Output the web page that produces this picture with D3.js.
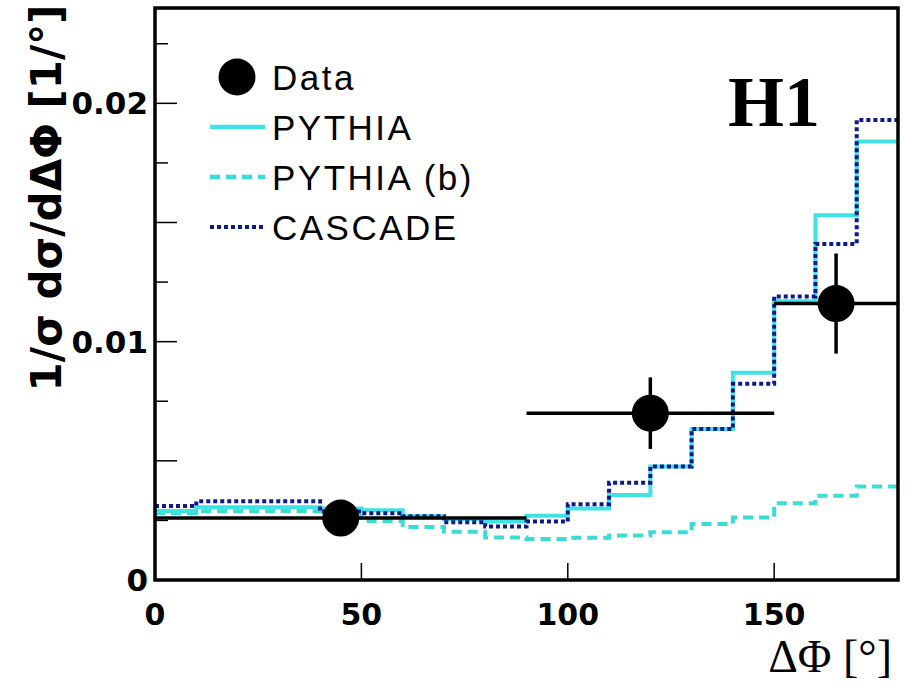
<!DOCTYPE html>
<html><head><meta charset="utf-8">
<script src="https://cdn.jsdelivr.net/npm/d3@7"></script>
<style>body{margin:0;background:#fff}svg{display:block}</style>
</head><body>
<svg id="c" width="905" height="687"></svg>
<script>
// ---- data ----
const binEdges = [0,10,20,30,40,50,60,70,80,90,100,110,120,130,140,150,160,170,180];
const pythia  = [0.0029,0.00305,0.00305,0.00305,0.0030,0.00293,0.00268,0.00255,0.00245,0.0027,0.0030,0.00357,0.00476,0.00634,0.0087,0.0117,0.0153,0.0184];
const pythiaB = [0.0028,0.00288,0.00288,0.0029,0.0027,0.00248,0.00222,0.00202,0.00178,0.00172,0.00177,0.00187,0.0020,0.00235,0.00262,0.00322,0.00353,0.00392];
const cascade = [0.0031,0.0033,0.0033,0.0033,0.00287,0.0028,0.00268,0.00242,0.00224,0.00245,0.00318,0.00408,0.00476,0.00634,0.00823,0.0119,0.0141,0.0193];
const dataX    = [45,120,165];
const dataY    = [0.0026,0.0070,0.0116];
const dataXerr = [45,30,15];
const dataYerr = [0.0001,0.0015,0.0021];
const xTicks = [0,50,100,150];
const yTicks = [0,0.01,0.02];
const legendLabels = ["Data","PYTHIA","PYTHIA (b)","CASCADE"];

// ---- layout ----
const svg = d3.select("#c");
const x = d3.scaleLinear().domain([0,180]).range([155,898]);
const y = d3.scaleLinear().domain([0,0.024]).range([580,8]);

const cCyan = "#3fe3e3", cCyanB = "#3cdcd4", cNavy = "#0d1a8c";

svg.append("clipPath").attr("id","clip").append("rect")
  .attr("x",x(0)).attr("y",y(0.024)).attr("width",x(180)-x(0)).attr("height",y(0)-y(0.024));

const g = svg.append("g").attr("clip-path","url(#clip)");

function stepPts(vals){
  const pts = vals.map((v,i)=>[binEdges[i],v]);
  pts.push([binEdges[binEdges.length-1], vals[vals.length-1]]);
  return pts;
}
const line = d3.line().x(d=>x(d[0])).y(d=>y(d[1])).curve(d3.curveStepAfter);

g.append("path").attr("d",line(stepPts(pythiaB))).attr("fill","none")
  .attr("stroke",cCyanB).attr("stroke-width",4).attr("stroke-dasharray","10,6");
g.append("path").attr("d",line(stepPts(pythia))).attr("fill","none")
  .attr("stroke",cCyan).attr("stroke-width",4);
g.append("path").attr("d",line(stepPts(cascade))).attr("fill","none")
  .attr("stroke",cNavy).attr("stroke-width",4).attr("stroke-dasharray","4,3");

// data points
const dg = g.append("g");
dataX.forEach((dx,i)=>{
  dg.append("line").attr("x1",x(dx-dataXerr[i])).attr("x2",x(dx+dataXerr[i]))
    .attr("y1",y(dataY[i])).attr("y2",y(dataY[i])).attr("stroke","#000").attr("stroke-width",3.5);
  dg.append("line").attr("x1",x(dx)).attr("x2",x(dx))
    .attr("y1",y(dataY[i]-dataYerr[i])).attr("y2",y(dataY[i]+dataYerr[i])).attr("stroke","#000").attr("stroke-width",3.5);
  dg.append("circle").attr("cx",x(dx)).attr("cy",y(dataY[i])).attr("r",18.5).attr("fill","#000");
});

// frame
svg.append("rect").attr("x",x(0)).attr("y",y(0.024)).attr("width",x(180)-x(0)).attr("height",y(0)-y(0.024))
  .attr("fill","none").attr("stroke","#000").attr("stroke-width",3.5);

// y ticks
const yMinor = d3.range(0.0025,0.024,0.0025);
yMinor.forEach(t=>{
  const major = Math.abs((t/0.005)-Math.round(t/0.005))<1e-6;
  svg.append("line").attr("x1",x(0)).attr("x2",x(0)+(major?22:13))
    .attr("y1",y(t)).attr("y2",y(t)).attr("stroke","#000").attr("stroke-width",1.5);
});
// x ticks
xTicks.filter(t=>t>0).forEach(t=>{
  svg.append("line").attr("x1",x(t)).attr("x2",x(t)).attr("y1",y(0)).attr("y2",y(0)-17)
    .attr("stroke","#000").attr("stroke-width",1.5);
});

const sansB = "'DejaVu Sans', sans-serif";
yTicks.forEach(t=>{
  svg.append("text").attr("x",148).attr("y",y(t)).attr("dy","0.36em")
    .attr("text-anchor","end").attr("font-family",sansB).attr("font-weight","bold")
    .attr("font-size",31).text(t===0?"0":String(t));
});
xTicks.forEach(t=>{
  svg.append("text").attr("x",x(t)).attr("y",625)
    .attr("text-anchor","middle").attr("font-family",sansB).attr("font-weight","bold")
    .attr("font-size",30).text(String(t));
});

// axis titles
svg.append("text").attr("transform","translate(61,198) rotate(-90)")
  .attr("text-anchor","middle").attr("font-family",sansB).attr("font-weight","bold")
  .attr("font-size",42).text("1/σ dσ/dΔΦ [1/°]");
svg.append("text").attr("x",892).attr("y",672).attr("text-anchor","end")
  .attr("font-family","'Liberation Serif', serif").attr("font-size",46).text("ΔΦ [°]");

// H1 label
svg.append("text").attr("x",728).attr("y",126)
  .attr("font-family","'Liberation Serif', serif").attr("font-weight","bold")
  .attr("font-size",72).text("H1");

// legend
const lg = svg.append("g");
const ly = [77,127,177,227];
lg.append("circle").attr("cx",237).attr("cy",ly[0]).attr("r",18.5).attr("fill","#000");
lg.append("line").attr("x1",210).attr("x2",265).attr("y1",ly[1]).attr("y2",ly[1]).attr("stroke",cCyan).attr("stroke-width",4.5);
lg.append("line").attr("x1",210).attr("x2",265).attr("y1",ly[2]).attr("y2",ly[2]).attr("stroke",cCyanB).attr("stroke-width",4.5).attr("stroke-dasharray","10,6");
lg.append("line").attr("x1",210).attr("x2",265).attr("y1",ly[3]).attr("y2",ly[3]).attr("stroke",cNavy).attr("stroke-width",4).attr("stroke-dasharray","4,3");
legendLabels.forEach((s,i)=>{
  lg.append("text").attr("x",272).attr("y",ly[i]+13)
    .attr("font-family","'Liberation Sans', Arial, sans-serif").attr("font-size",35)
    .attr("letter-spacing",2.5).text(s);
});
</script>
</body></html>
